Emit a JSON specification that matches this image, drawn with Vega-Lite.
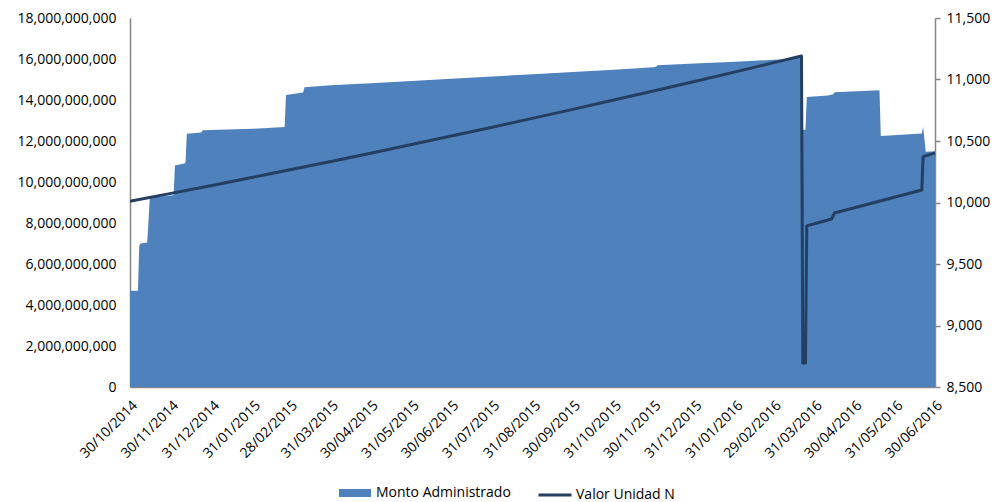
{
  "$schema": "https://vega.github.io/schema/vega-lite/v6.json",
  "width": 805,
  "height": 369,
  "autosize": "none",
  "padding": {"left": 130, "top": 18, "right": 62, "bottom": 115},
  "background": "white",
  "config": {
    "view": {"stroke": null},
    "font": "Open Sans",
    "axis": {"grid": false, "labelFont": "Open Sans", "labelFontSize": 14, "labelColor": "#000000", "domainColor": "#868686", "domainWidth": 1.5, "tickColor": "#868686", "tickWidth": 1.5, "labelOverlap": false},
    "legend": {"labelFont": "Open Sans", "labelFontSize": 14, "labelColor": "#000000", "padding": 0}
  },
  "datasets": {
    "area": [
      {"date": "2014-10-30", "monto": 4700000000},
      {"date": "2014-11-05", "monto": 4700000000},
      {"date": "2014-11-06", "monto": 6900000000},
      {"date": "2014-11-07", "monto": 7000000000},
      {"date": "2014-11-12", "monto": 7050000000},
      {"date": "2014-11-13", "monto": 8100000000},
      {"date": "2014-11-14", "monto": 9250000000},
      {"date": "2014-11-20", "monto": 9280000000},
      {"date": "2014-12-02", "monto": 9350000000},
      {"date": "2014-12-03", "monto": 10800000000},
      {"date": "2014-12-10", "monto": 10900000000},
      {"date": "2014-12-11", "monto": 10950000000},
      {"date": "2014-12-12", "monto": 12350000000},
      {"date": "2014-12-23", "monto": 12420000000},
      {"date": "2014-12-24", "monto": 12520000000},
      {"date": "2015-01-31", "monto": 12600000000},
      {"date": "2015-02-24", "monto": 12680000000},
      {"date": "2015-02-25", "monto": 14250000000},
      {"date": "2015-03-10", "monto": 14360000000},
      {"date": "2015-03-11", "monto": 14620000000},
      {"date": "2015-03-31", "monto": 14720000000},
      {"date": "2015-04-30", "monto": 14820000000},
      {"date": "2015-05-31", "monto": 14930000000},
      {"date": "2015-06-30", "monto": 15040000000},
      {"date": "2015-07-31", "monto": 15150000000},
      {"date": "2015-08-31", "monto": 15260000000},
      {"date": "2015-09-30", "monto": 15370000000},
      {"date": "2015-10-31", "monto": 15480000000},
      {"date": "2015-11-30", "monto": 15600000000},
      {"date": "2015-12-02", "monto": 15620000000},
      {"date": "2015-12-03", "monto": 15690000000},
      {"date": "2015-12-31", "monto": 15780000000},
      {"date": "2016-01-31", "monto": 15870000000},
      {"date": "2016-02-29", "monto": 15960000000},
      {"date": "2016-03-12", "monto": 16000000000},
      {"date": "2016-03-20", "monto": 16080000000},
      {"date": "2016-03-21", "monto": 16100000000},
      {"date": "2016-03-22", "monto": 12550000000},
      {"date": "2016-03-24", "monto": 12550000000},
      {"date": "2016-03-25", "monto": 14150000000},
      {"date": "2016-04-10", "monto": 14220000000},
      {"date": "2016-04-14", "monto": 14280000000},
      {"date": "2016-04-15", "monto": 14380000000},
      {"date": "2016-05-19", "monto": 14470000000},
      {"date": "2016-05-20", "monto": 12250000000},
      {"date": "2016-06-20", "monto": 12370000000},
      {"date": "2016-06-21", "monto": 12700000000},
      {"date": "2016-06-22", "monto": 12100000000},
      {"date": "2016-06-23", "monto": 11480000000},
      {"date": "2016-06-30", "monto": 11500000000}
    ],
    "line": [
      {"date": "2014-10-30", "valor": 10010},
      {"date": "2014-11-30", "valor": 10074},
      {"date": "2014-12-31", "valor": 10139},
      {"date": "2015-01-31", "valor": 10205},
      {"date": "2015-02-28", "valor": 10266},
      {"date": "2015-03-31", "valor": 10334},
      {"date": "2015-04-30", "valor": 10401},
      {"date": "2015-05-31", "valor": 10471},
      {"date": "2015-06-30", "valor": 10540},
      {"date": "2015-07-31", "valor": 10612},
      {"date": "2015-08-31", "valor": 10686},
      {"date": "2015-09-30", "valor": 10757},
      {"date": "2015-10-31", "valor": 10833},
      {"date": "2015-11-30", "valor": 10907},
      {"date": "2015-12-31", "valor": 10984},
      {"date": "2016-01-31", "valor": 11062},
      {"date": "2016-02-29", "valor": 11137},
      {"date": "2016-03-21", "valor": 11191},
      {"date": "2016-03-22", "valor": 8695},
      {"date": "2016-03-24", "valor": 8695},
      {"date": "2016-03-25", "valor": 9810},
      {"date": "2016-04-10", "valor": 9858},
      {"date": "2016-04-13", "valor": 9868},
      {"date": "2016-04-15", "valor": 9915},
      {"date": "2016-06-20", "valor": 10102},
      {"date": "2016-06-21", "valor": 10373},
      {"date": "2016-06-30", "valor": 10404}
    ]
  },
  "layer": [
    {
      "data": {"name": "area"},
      "mark": {"type": "area", "interpolate": "linear", "opacity": 1},
      "encoding": {
        "x": {
          "field": "date", "type": "temporal", "title": null,
          "scale": {"type": "utc", "nice": false, "domain": [{"year": 2014, "month": 10, "date": 30, "utc": true}, {"year": 2016, "month": 6, "date": 30, "utc": true}]},
          "axis": {
            "format": "%d/%m/%Y", "labelAngle": -45, "ticks": false, "labelPadding": 11, "labelOverlap": false,
            "values": [
              {"year": 2014, "month": 10, "date": 30, "utc": true},
              {"year": 2014, "month": 11, "date": 30, "utc": true},
              {"year": 2014, "month": 12, "date": 31, "utc": true},
              {"year": 2015, "month": 1, "date": 31, "utc": true},
              {"year": 2015, "month": 2, "date": 28, "utc": true},
              {"year": 2015, "month": 3, "date": 31, "utc": true},
              {"year": 2015, "month": 4, "date": 30, "utc": true},
              {"year": 2015, "month": 5, "date": 31, "utc": true},
              {"year": 2015, "month": 6, "date": 30, "utc": true},
              {"year": 2015, "month": 7, "date": 31, "utc": true},
              {"year": 2015, "month": 8, "date": 31, "utc": true},
              {"year": 2015, "month": 9, "date": 30, "utc": true},
              {"year": 2015, "month": 10, "date": 31, "utc": true},
              {"year": 2015, "month": 11, "date": 30, "utc": true},
              {"year": 2015, "month": 12, "date": 31, "utc": true},
              {"year": 2016, "month": 1, "date": 31, "utc": true},
              {"year": 2016, "month": 2, "date": 29, "utc": true},
              {"year": 2016, "month": 3, "date": 31, "utc": true},
              {"year": 2016, "month": 4, "date": 30, "utc": true},
              {"year": 2016, "month": 5, "date": 31, "utc": true},
              {"year": 2016, "month": 6, "date": 30, "utc": true}
            ]
          }
        },
        "y": {
          "field": "monto", "type": "quantitative", "title": null,
          "scale": {"domain": [0, 18000000000], "nice": false, "zero": true},
          "axis": {"orient": "left", "format": ",.0f", "ticks": false, "labelPadding": 14,
            "values": [0, 2000000000, 4000000000, 6000000000, 8000000000, 10000000000, 12000000000, 14000000000, 16000000000, 18000000000]}
        },
        "fill": {
          "datum": "Monto Administrado", "type": "nominal",
          "scale": {"range": ["#4F81BD"]},
          "legend": {"title": null, "orient": "none", "legendX": 209, "legendY": 459, "direction": "horizontal",
            "symbolType": "M-1,-0.25H1V0.25H-1Z", "symbolSize": 1024, "symbolStrokeWidth": 0, "labelOffset": 5}
        }
      }
    },
    {
      "data": {"name": "line"},
      "mark": {"type": "line", "interpolate": "linear", "strokeWidth": 3, "strokeJoin": "round"},
      "encoding": {
        "x": {"field": "date", "type": "temporal"},
        "y": {
          "field": "valor", "type": "quantitative", "title": null,
          "scale": {"domain": [8500, 11500], "nice": false, "zero": false},
          "axis": {"orient": "right", "format": ",.0f", "tickSize": 5, "labelPadding": 6,
            "values": [8500, 9000, 9500, 10000, 10500, 11000, 11500]}
        },
        "stroke": {
          "datum": "Valor Unidad N", "type": "nominal",
          "scale": {"range": ["#243F60"]},
          "legend": {"title": null, "orient": "none", "legendX": 407, "legendY": 459, "direction": "horizontal",
            "symbolType": "M-1,0H1", "symbolSize": 1089, "symbolStrokeWidth": 3, "labelOffset": 3}
        }
      }
    }
  ],
  "resolve": {"scale": {"y": "independent", "x": "shared"}}
}
